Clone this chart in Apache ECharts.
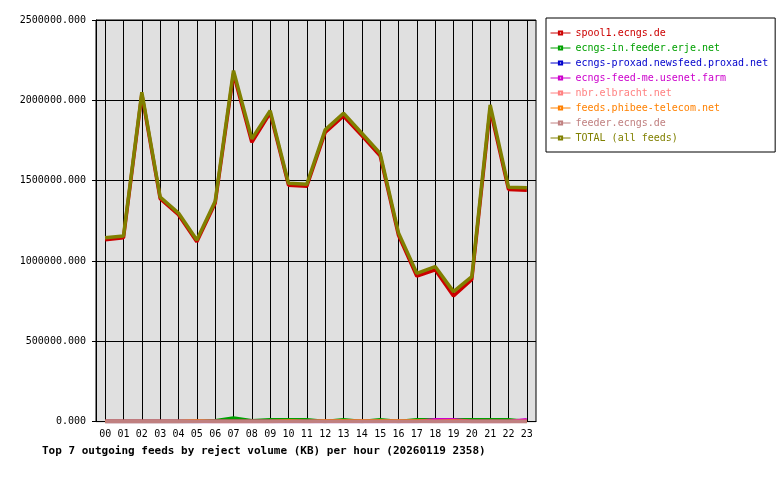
<!DOCTYPE html>
<html>
<head>
<meta charset="utf-8">
<script src="https://cdn.jsdelivr.net/npm/echarts@6/dist/echarts.min.js"></script>
<style>
  body { margin: 0; background: #fff; }
  #chart { width: 780px; height: 480px; }
</style>
</head>
<body>
<div id="chart"></div>
<script>
// hours of the day
var hours = ['00','01','02','03','04','05','06','07','08','09','10','11',
             '12','13','14','15','16','17','18','19','20','21','22','23'];

// reject volume per feed (KB)
var spool1   = [1132000,1145000,2038000,1388000,1288000,1120000,1360000,2165000,1738000,1922000,1472000,1465000,
                1800000,1902000,1780000,1655000,1160000,905000,945000,782000,885000,1945000,1445000,1440000];
var ecngsIn  = [0,0,0,0,0,0,5000,22000,5000,12000,12000,12000,0,12000,0,12000,0,12000,12000,12000,12000,12000,12000,0];
var proxad   = [0,0,0,0,0,0,0,0,0,0,0,0,0,0,0,0,0,0,0,0,0,0,0,0];
var feedMe   = [0,0,0,0,0,0,0,0,0,0,0,0,0,0,0,0,0,0,12000,12000,0,0,0,12000];
var nbr      = [0,0,0,0,0,0,0,0,0,0,0,0,0,0,0,0,0,0,0,0,0,0,0,0];
var phibee   = [0,0,0,0,0,4000,0,0,0,0,4000,0,4000,4000,4000,4000,4000,4000,0,4000,0,0,0,0];
var feeder   = [0,0,0,0,0,0,0,0,0,0,0,0,0,0,0,0,0,0,0,0,0,0,0,0];
var total    = [1145000,1155000,2050000,1398000,1298000,1131000,1372000,2185000,1760000,1936000,1484000,1478000,
                1816000,1920000,1795000,1670000,1175000,923000,965000,809000,902000,1971000,1459000,1456000];

var feedNames  = ['spool1.ecngs.de','ecngs-in.feeder.erje.net','ecngs-proxad.newsfeed.proxad.net',
                  'ecngs-feed-me.usenet.farm','nbr.elbracht.net','feeds.phibee-telecom.net',
                  'feeder.ecngs.de','TOTAL (all feeds)'];
var feedColors = ['#cc0000','#00a000','#0000cc','#cc00cc','#ff8080','#ff8000','#c08080','#808000'];
var feedData   = [spool1, ecngsIn, proxad, feedMe, nbr, phibee, feeder, total];

var font = 'DejaVu Sans Mono';

var myChart = echarts.init(document.getElementById('chart'));

var series = [];
var legendData = [];
for (var i = 0; i < feedNames.length; i++) {
  series.push({
    name: feedNames[i],
    type: 'line',
    data: feedData[i],
    symbol: 'emptyRect',
    showSymbol: false,
    animation: false,
    color: feedColors[i],
    lineStyle: { width: 3.5, color: feedColors[i] }
  });
  legendData.push({ name: feedNames[i], textStyle: { color: feedColors[i] } });
}

myChart.setOption({
  backgroundColor: '#fff',
  animation: false,
  title: {
    text: 'Top 7 outgoing feeds by reject volume (KB) per hour (20260119 2358)',
    left: 42,
    top: 446,
    padding: 0,
    textStyle: { fontFamily: font, fontSize: 11, fontWeight: 'bold', color: '#000' }
  },
  legend: {
    orient: 'vertical',
    left: 546,
    top: 18,
    padding: [10, 7, 9, 4],
    itemWidth: 20,
    itemHeight: 4,
    itemGap: 5,
    borderColor: '#000',
    borderWidth: 1,
    backgroundColor: '#fff',
    selectedMode: false,
    lineStyle: { width: 1 },
    itemStyle: { borderWidth: 1 },
    textStyle: { fontFamily: font, fontSize: 10, lineHeight: 10 },
    data: legendData
  },
  grid: {
    left: 96,
    top: 20,
    width: 440,
    height: 401.6,
    show: true,
    backgroundColor: '#e0e0e0',
    borderColor: '#000',
    borderWidth: 1
  },
  xAxis: {
    type: 'category',
    data: hours,
    boundaryGap: true,
    axisLine: { lineStyle: { color: '#000', width: 1 } },
    axisTick: { alignWithLabel: true, length: 4, lineStyle: { color: '#000' } },
    axisLabel: { fontFamily: font, fontSize: 10, color: '#000', margin: 8, interval: 0 },
    splitLine: { show: true, alignWithLabel: true, lineStyle: { color: '#000', width: 1 } }
  },
  yAxis: {
    type: 'value',
    min: 0,
    max: 2500000,
    interval: 500000,
    axisLine: { show: true, lineStyle: { color: '#000', width: 1 } },
    axisTick: { show: true, length: 4, lineStyle: { color: '#000' } },
    axisLabel: {
      fontFamily: font, fontSize: 10, color: '#000', margin: 10,
      formatter: function (v) { return v.toFixed(3); }
    },
    splitLine: { show: true, lineStyle: { color: '#000', width: 1 } }
  },
  series: series
});
</script>
</body>
</html>
